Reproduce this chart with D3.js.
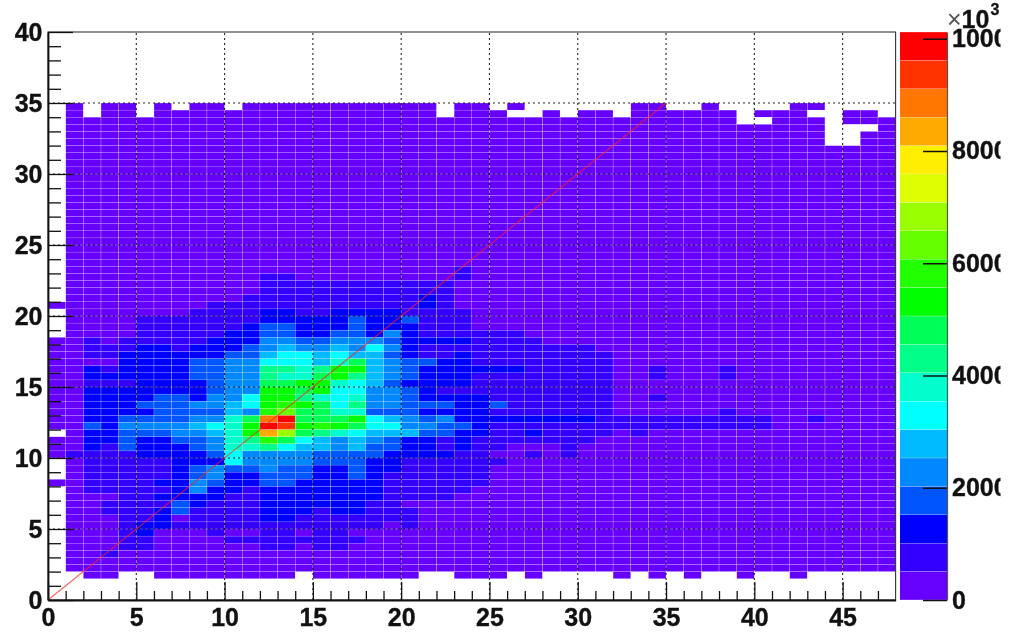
<!DOCTYPE html>
<html><head><meta charset="utf-8">
<script src="https://d3js.org/d3.v7.min.js"></script>
<style>
html,body{margin:0;padding:0;background:#fff}
svg{display:block;filter:blur(0.6px)}
text{font-family:"Liberation Sans",Arial,sans-serif;font-weight:700;fill:#111}
</style></head><body>
<svg id="c" width="1012" height="639"></svg>
<script>
// Lower edge (y) of each histogram row, top row first.
const rowLow = [34.5,34,33.5,33,32.5,32,31.5,31,30.5,30,29.5,29,28.5,28,27.5,27,26.5,26,25.5,25,24.5,24,23.5,23,22.5,22,21.5,21,20.5,20,19.5,19,18.5,18,17.5,17,16.5,16,15.5,15,14.5,14,13.5,13,12.5,12,11.5,11,10.5,10,9.5,9,8.5,8,7.5,7,6.5,6,5.5,5,4.5,4,3.5,3,2.5,2,1.5];
// Bin contents in hundreds of axis units (0 = empty bin), 48 x-bins per row.
const binValues = [
[0,3,0,3,3,0,3,0,3,3, 0,3,3,3,3,3,3,3,3,3, 3,3,0,3,3,0,3,0,0,0, 0,0,0,3,3,0,0,3,0,0, 0,0,3,3,0,0,0,0],
[0,3,0,3,3,0,3,3,3,3, 3,3,3,3,3,3,3,3,3,3, 3,3,0,3,3,3,0,0,3,0, 3,3,0,3,3,3,3,3,3,0, 3,3,3,0,0,3,3,0],
[0,3,3,3,3,3,3,3,3,3, 3,3,3,3,3,3,3,3,3,3, 3,3,3,3,3,3,3,3,3,3, 3,3,3,3,3,3,3,3,3,0, 0,3,3,3,0,3,3,3],
[0,3,3,3,3,3,3,3,3,3, 3,3,3,3,3,3,3,3,3,3, 3,3,3,3,3,3,3,3,3,3, 3,3,3,3,3,3,3,3,3,3, 3,3,3,3,0,0,0,3],
[0,3,3,3,3,3,3,3,3,3, 3,3,3,3,3,3,3,3,3,3, 3,3,3,3,3,3,3,3,3,3, 3,3,3,3,3,3,3,3,3,3, 3,3,3,3,0,0,3,3],
[0,3,3,3,3,3,3,3,3,3, 3,3,3,3,3,3,3,3,3,3, 3,3,3,3,3,3,3,3,3,3, 3,3,3,3,3,3,3,3,3,3, 3,3,3,3,0,0,3,3],
[0,3,3,3,3,3,3,3,3,3, 3,3,3,3,3,3,3,3,3,3, 3,3,3,3,3,3,3,3,3,3, 3,3,3,3,3,3,3,3,3,3, 3,3,3,3,3,3,3,3],
[0,3,3,3,3,3,3,3,3,3, 3,3,3,3,3,3,3,3,3,3, 3,3,3,3,3,3,3,3,3,3, 3,3,3,3,3,3,3,3,3,3, 3,3,3,3,3,3,3,3],
[0,3,3,3,3,3,3,3,3,3, 3,3,3,3,3,3,3,3,3,3, 3,3,3,3,3,3,3,3,3,3, 3,3,3,3,3,3,3,3,3,3, 3,3,3,3,3,3,3,3],
[0,3,3,3,3,3,3,3,3,3, 3,3,3,3,3,3,3,3,3,3, 3,3,3,3,3,3,3,3,3,3, 3,3,3,3,3,3,3,3,3,3, 3,3,3,3,3,3,3,3],
[0,3,3,3,3,3,3,3,3,3, 3,3,3,3,3,3,3,3,3,3, 3,3,3,3,3,3,3,3,3,3, 3,3,3,3,3,3,3,3,3,3, 3,3,3,3,3,3,3,3],
[0,3,3,3,3,3,3,3,3,3, 3,3,3,3,3,3,3,3,3,3, 3,3,3,3,3,3,3,3,3,3, 3,3,3,3,3,3,3,3,3,3, 3,3,3,3,3,3,3,3],
[0,3,3,3,3,3,3,3,3,3, 3,3,3,3,3,3,3,3,3,3, 3,3,3,3,3,3,3,3,3,3, 3,3,3,3,3,3,3,3,3,3, 3,3,3,3,3,3,3,3],
[0,3,3,3,3,3,3,3,3,3, 3,3,3,3,3,3,3,3,3,3, 3,3,3,3,3,3,3,3,3,3, 3,3,3,3,3,3,3,3,3,3, 3,3,3,3,3,3,3,3],
[0,3,3,3,3,3,3,3,3,3, 3,3,3,3,3,3,3,3,3,3, 3,3,3,3,3,3,3,3,3,3, 3,3,3,3,3,3,3,3,3,3, 3,3,3,3,3,3,3,3],
[0,3,3,3,3,3,3,3,3,3, 3,3,3,3,3,3,3,3,3,3, 3,3,3,3,3,3,3,3,3,3, 3,3,3,3,3,3,3,3,3,3, 3,3,3,3,3,3,3,3],
[0,3,3,3,3,3,3,3,3,3, 3,3,3,3,3,3,3,3,3,3, 3,3,3,3,3,3,3,3,3,3, 3,3,3,3,3,3,3,3,3,3, 3,3,3,3,3,3,3,3],
[0,3,3,3,3,3,3,3,3,3, 3,3,3,3,3,3,3,3,3,3, 3,3,3,3,3,3,3,3,3,3, 3,3,3,3,3,3,3,3,3,3, 3,3,3,3,3,3,3,3],
[0,3,3,3,3,3,3,3,3,3, 3,3,3,3,3,3,3,3,3,3, 3,3,3,3,3,3,3,3,3,3, 3,3,3,3,3,3,3,3,3,3, 3,3,3,3,3,3,3,3],
[0,3,3,3,3,3,3,3,3,3, 3,3,3,3,3,3,3,3,3,3, 3,3,3,3,3,3,3,3,3,3, 3,3,3,3,3,3,3,3,3,3, 3,3,3,3,3,3,3,3],
[0,3,3,3,3,3,3,3,3,3, 3,3,3,3,3,3,3,3,3,3, 3,3,3,3,3,3,3,3,3,3, 3,3,3,3,3,3,3,3,3,3, 3,3,3,3,3,3,3,3],
[0,3,3,3,3,3,3,3,3,3, 3,3,3,3,3,3,3,3,3,3, 3,3,3,3,3,3,3,3,3,3, 3,3,3,3,3,3,3,3,3,3, 3,3,3,3,3,3,3,3],
[0,3,3,3,3,3,3,3,3,3, 3,3,3,3,3,3,3,3,3,3, 3,3,3,3,3,3,3,3,3,3, 3,3,3,3,3,3,3,3,3,3, 3,3,3,3,3,3,3,3],
[0,3,3,3,3,3,3,3,3,3, 3,3,3,3,3,3,3,3,3,3, 3,3,3,8,3,3,3,3,3,3, 3,3,3,3,3,3,3,3,3,3, 3,3,3,3,3,3,3,3],
[0,3,3,3,3,3,3,3,3,3, 3,3,8,8,3,3,3,3,3,3, 3,3,3,8,3,3,3,3,3,3, 3,3,3,3,3,3,3,3,3,3, 3,3,3,3,3,3,3,3],
[0,3,3,3,3,3,3,3,3,3, 3,3,8,8,8,8,8,8,8,8, 8,8,8,3,3,3,3,3,3,3, 3,3,3,3,3,3,3,3,3,3, 3,3,3,3,3,3,3,3],
[0,3,3,3,3,3,3,3,3,3, 3,3,8,8,8,8,8,8,8,8, 8,8,8,3,3,3,3,3,3,3, 3,3,3,3,3,3,3,3,3,3, 3,3,3,3,3,3,3,3],
[0,3,3,3,3,3,3,3,3,3, 3,8,8,8,8,8,8,8,8,8, 8,13,8,3,3,3,3,3,3,3, 3,3,3,3,3,3,3,3,3,3, 3,3,3,3,3,3,3,3],
[3,3,3,3,3,3,3,3,3,8, 8,8,8,8,8,8,8,8,8,8, 8,13,8,3,3,3,3,3,3,3, 3,3,3,3,3,3,3,3,3,3, 3,3,3,3,3,3,3,3],
[0,3,3,3,3,3,3,3,8,8, 8,8,13,13,8,8,13,13,13,13, 8,8,8,8,3,3,3,3,3,3, 3,3,3,3,3,3,3,3,3,3, 3,3,3,3,3,3,3,3],
[0,3,3,3,3,8,8,8,8,8, 8,8,13,13,13,13,13,18,13,13, 18,8,8,8,3,3,3,3,3,3, 3,3,3,3,3,3,3,3,3,3, 3,3,3,3,3,3,3,3],
[0,3,3,3,3,8,8,8,8,8, 8,13,18,18,13,13,13,18,13,13, 13,8,8,8,3,3,3,3,3,3, 3,3,3,3,3,3,3,3,3,3, 3,3,3,3,3,3,3,3],
[0,3,3,3,3,8,8,8,8,8, 13,13,18,18,13,13,18,18,13,23, 13,8,8,8,8,8,8,3,3,3, 3,3,3,3,3,3,3,3,3,3, 3,3,3,3,3,3,3,3],
[3,3,8,3,8,8,8,8,8,13, 13,13,23,23,18,18,23,23,23,18, 13,13,13,13,8,8,8,8,3,3, 3,3,3,3,3,3,3,3,3,3, 3,3,3,3,3,3,3,3],
[3,3,8,8,8,13,13,8,13,13, 13,18,23,28,23,23,28,23,33,23, 13,8,8,8,8,8,8,8,8,8, 8,3,3,3,3,3,3,3,3,3, 3,3,3,3,3,3,3,3],
[3,3,8,8,13,13,13,13,13,13, 18,18,28,33,33,28,33,28,28,18, 13,8,8,13,8,8,8,8,8,8, 8,8,3,3,3,3,3,3,3,3, 3,3,3,3,3,3,3,3],
[3,3,3,3,13,13,13,13,18,18, 23,23,33,33,33,28,38,48,28,23, 18,18,13,13,8,8,8,8,8,8, 8,8,3,3,3,3,3,3,3,3, 3,3,3,3,3,3,3,3],
[3,3,13,8,13,13,13,13,18,18, 23,23,43,43,38,43,53,53,28,23, 18,13,13,13,13,13,13,8,8,8, 8,8,3,3,8,3,3,3,8,3, 3,3,3,3,3,3,3,3],
[3,3,13,13,13,13,13,13,18,18, 23,23,43,38,38,48,53,43,28,23, 18,13,13,13,8,8,8,8,8,8, 8,8,3,3,8,3,3,3,8,3, 3,3,3,3,3,3,3,3],
[3,3,8,8,8,13,13,13,13,18, 23,23,48,48,53,53,38,33,28,18, 13,13,13,13,8,8,8,8,8,8, 8,8,3,3,3,3,3,3,3,3, 3,3,3,3,3,3,3,3],
[3,3,13,13,13,13,13,13,13,18, 23,23,53,53,48,53,33,33,23,23, 18,13,8,8,8,8,8,8,8,8, 8,8,3,3,3,3,3,3,3,3, 3,3,3,3,3,3,3,3],
[3,3,13,13,13,13,18,18,13,23, 23,33,53,53,43,38,33,38,23,23, 18,13,13,13,13,8,8,8,8,8, 8,8,3,3,8,3,3,3,3,3, 3,3,3,3,3,3,3,3],
[3,3,13,13,13,18,18,18,23,23, 28,33,53,58,53,48,33,43,23,23, 18,18,18,13,13,18,8,8,8,8, 8,8,3,3,3,3,3,3,3,3, 3,3,3,3,3,3,3,3],
[3,3,13,13,13,13,18,18,18,18, 28,23,58,63,48,48,38,38,18,18, 18,13,13,13,13,8,8,8,8,8, 8,8,3,3,3,3,3,3,8,3, 3,3,3,3,3,3,3,3],
[3,3,13,13,18,18,18,18,23,23, 38,48,88,99,48,48,48,53,33,28, 23,18,23,13,13,13,13,13,13,13, 13,8,8,8,8,8,8,8,8,8, 8,3,3,8,3,3,3,3],
[3,3,18,13,23,23,23,23,28,33, 38,53,99,93,53,58,53,48,33,33, 23,23,18,18,13,8,8,8,8,8, 8,8,8,8,8,8,8,8,8,8, 8,3,3,3,3,3,3,3],
[0,3,13,13,18,18,18,23,23,28, 38,53,83,68,48,43,38,33,28,28, 28,18,18,13,13,8,8,13,8,8, 8,8,3,8,3,3,3,3,3,3, 3,3,3,3,3,3,3,3],
[3,3,13,13,18,13,13,18,18,23, 38,43,58,48,33,28,23,28,23,18, 13,13,8,13,8,8,8,8,8,8, 8,3,3,3,3,3,3,3,3,3, 3,3,3,3,3,3,3,3],
[3,3,13,8,18,13,13,13,18,23, 38,38,43,33,28,28,23,28,18,18, 13,13,8,13,8,8,3,3,3,8, 3,3,3,3,3,3,3,3,3,3, 3,3,3,3,3,3,3,3],
[3,8,8,8,8,13,13,13,13,18, 33,23,23,23,23,18,18,18,18,13, 13,13,13,8,8,3,3,8,3,8, 3,3,3,3,3,3,3,3,3,3, 3,3,3,3,3,3,3,3],
[0,3,8,8,8,8,8,13,13,13, 33,23,23,23,23,18,18,18,13,13, 8,8,8,8,8,8,3,3,3,3, 3,3,3,3,3,3,3,3,3,3, 3,3,3,3,3,3,3,3],
[0,3,8,8,8,8,8,13,18,23, 18,18,23,18,18,13,13,18,13,13, 8,8,8,8,8,3,3,3,3,3, 3,3,3,3,3,3,3,3,3,3, 3,3,3,3,3,3,3,3],
[0,3,8,8,8,8,8,13,18,23, 13,13,18,18,18,13,13,18,13,8, 8,8,8,8,8,3,3,3,3,3, 3,3,3,3,3,3,3,3,3,3, 3,3,3,3,3,3,3,3],
[3,3,8,8,8,8,13,13,23,18, 13,13,18,18,13,13,13,13,13,8, 8,8,8,8,8,3,3,3,3,3, 3,3,3,3,3,3,3,3,3,3, 3,3,3,3,3,3,3,3],
[0,3,8,8,8,8,8,13,23,13, 13,8,13,13,13,13,13,13,13,8, 8,8,8,8,3,3,3,3,3,3, 3,3,3,3,3,3,3,3,3,3, 3,3,3,3,3,3,3,3],
[0,3,3,3,8,8,13,13,13,13, 8,8,13,13,13,13,13,13,13,8, 8,8,8,3,3,3,3,3,3,3, 3,3,3,3,3,3,3,3,3,3, 3,3,3,3,3,3,3,3],
[0,3,3,8,8,8,8,18,13,8, 8,8,13,13,13,13,13,13,8,8, 3,3,3,3,3,3,3,3,3,3, 3,3,3,3,3,3,3,3,3,3, 3,3,3,3,3,3,3,3],
[0,3,3,8,8,8,13,18,8,8, 8,8,13,13,13,8,13,13,8,8, 8,3,3,3,3,3,3,3,3,3, 3,3,3,3,3,3,3,3,3,3, 3,3,3,3,3,3,3,3],
[0,3,3,3,8,8,13,3,8,8, 8,8,13,13,8,8,8,8,8,8, 8,3,3,3,3,3,3,3,3,3, 3,3,3,3,3,3,3,3,3,3, 3,3,3,3,3,3,3,3],
[0,3,3,3,8,13,13,8,8,8, 8,8,8,8,8,8,8,8,8,3, 8,3,3,3,3,3,3,3,3,3, 3,3,3,3,3,3,3,3,3,3, 3,3,3,3,3,3,3,3],
[0,3,3,3,8,13,3,3,3,8, 3,3,8,8,3,8,8,3,3,3, 3,3,3,3,3,3,3,3,3,3, 3,3,3,3,3,3,3,3,3,3, 3,3,3,3,3,3,3,3],
[0,3,3,3,8,8,3,3,3,3, 8,8,8,8,8,8,8,8,3,3, 3,3,3,3,3,3,3,3,3,3, 3,3,3,3,3,3,3,3,3,3, 3,3,3,3,3,3,3,3],
[0,3,3,3,8,8,3,3,3,3, 3,3,8,8,3,8,8,3,3,3, 3,3,3,3,3,3,3,3,3,3, 3,3,3,3,3,3,3,3,3,3, 3,3,3,3,3,3,3,3],
[0,3,3,8,3,3,3,3,3,3, 3,3,3,3,3,3,3,3,3,3, 3,3,3,3,3,3,3,3,3,3, 3,3,3,3,3,3,3,3,3,3, 3,3,3,3,3,3,3,3],
[0,3,3,3,3,3,3,3,3,3, 3,3,3,3,3,3,3,3,3,3, 3,3,3,3,3,3,3,3,3,3, 3,3,3,3,3,3,3,3,3,3, 3,3,3,3,3,3,3,3],
[0,3,3,3,3,3,3,3,3,3, 3,3,3,3,3,3,3,3,3,3, 3,3,3,3,3,3,3,3,3,3, 3,3,3,3,3,3,3,3,3,3, 3,3,3,3,3,3,3,3],
[0,0,3,3,0,0,3,3,3,3, 3,3,3,3,0,3,3,3,3,3, 3,0,0,3,3,3,0,3,0,0, 0,0,3,0,3,0,3,0,0,3, 0,0,3,0,0,0,0,0]
];
const palette = ["#6600ff","#3300ff","#0000ff","#0055ff","#0088ff","#00bbff","#00ffff","#00ffcc","#00ff88","#00ff55","#00ff00","#22ff00","#66ff00","#99ff00","#ddff00","#ffee00","#ffaa00","#ff7700","#ff3300","#ff0000"];
const xTicksMajor = [0,5,10,15,20,25,30,35,40,45];
const xTicksMinor = [1,2,3,4,6,7,8,9,11,12,13,14,16,17,18,19,21,22,23,24,26,27,28,29,31,32,33,34,36,37,38,39,41,42,43,44,46,47];
const yTicksMajor = [0,5,10,15,20,25,30,35,40];
const yTicksMinor = [1,2,3,4,6,7,8,9,11,12,13,14,16,17,18,19,21,22,23,24,26,27,28,29,31,32,33,34,36,37,38,39];
const zTicks = [0,2000,4000,6000,8000,10000];
const diagonalEnds = [0,35];

const svg = d3.select("#c");
const x = d3.scaleLinear().domain([0,48]).range([48,895.6]);
const y = d3.scaleLinear().domain([0,40]).range([600,32]);
const z = d3.scaleLinear().domain([0,10120]).range([600,32]);
const color = d3.scaleQuantize().domain([0,101.2]).range(palette);
const seamX = 0.32, seamY = 0.28;

const cells = [];
binValues.forEach((row,r)=>row.forEach((v,i)=>{ if(v>0) cells.push({i,low:rowLow[r],v}); }));
svg.append("g").selectAll("rect").data(cells).join("rect")
  .attr("x",d=>x(d.i)+seamX/2).attr("width",d=>x(d.i+1)-x(d.i)-seamX)
  .attr("y",d=>y(d.low+0.5)+seamY/2).attr("height",d=>y(d.low)-y(d.low+0.5)-seamY)
  .attr("fill",d=>color(d.v));

// dotted grid
const grid = svg.append("g").attr("stroke","#000").attr("stroke-width",1.1).attr("stroke-dasharray","2 3").attr("stroke-opacity",0.85);
grid.selectAll(".gx").data(xTicksMajor.slice(1)).join("line").attr("x1",x).attr("x2",x).attr("y1",y(0)).attr("y2",y(40));
grid.selectAll(".gy").data(yTicksMajor.slice(1,-1)).join("line").attr("y1",y).attr("y2",y).attr("x1",x(0)).attr("x2",x(48));

// diagonal
svg.append("path").datum(diagonalEnds)
  .attr("d",d3.line().x(d=>x(d)).y(d=>y(d))).attr("fill","none")
  .attr("stroke","#ff2020").attr("stroke-opacity",0.7).attr("stroke-width",1.1);

// frame
svg.append("rect").attr("x",x(0)).attr("y",y(40)).attr("width",x(48)-x(0)).attr("height",y(0)-y(40))
  .attr("fill","none").attr("stroke","#333").attr("stroke-width",1.1);

function style(g){
  g.selectAll("path").attr("stroke","#111").attr("stroke-width",1.8);
  g.selectAll("line").attr("stroke","#111").attr("stroke-width",1.3);
  g.selectAll("text").attr("font-size",25).attr("font-family",'"Liberation Sans"').attr("font-weight",700)
    .attr("fill","#111").attr("stroke","#111").attr("stroke-width",0.35);
}
const axB = svg.append("g").attr("transform",`translate(0,${y(0)})`)
  .call(d3.axisBottom(x).tickValues(xTicksMajor).tickFormat(d3.format("d")).tickSizeInner(-18).tickSizeOuter(0).tickPadding(8.5));
style(axB);
const axBm = svg.append("g").attr("transform",`translate(0,${y(0)})`)
  .call(d3.axisBottom(x).tickValues(xTicksMinor).tickFormat("").tickSizeInner(-9).tickSizeOuter(0));
style(axBm); axBm.select("path").remove();
const axL = svg.append("g").attr("transform",`translate(${x(0)},0)`)
  .call(d3.axisLeft(y).tickValues(yTicksMajor).tickFormat(d3.format("d")).tickSizeInner(-25).tickSizeOuter(0).tickPadding(5.5));
style(axL);
const axLm = svg.append("g").attr("transform",`translate(${x(0)},0)`)
  .call(d3.axisLeft(y).tickValues(yTicksMinor).tickFormat("").tickSizeInner(-13).tickSizeOuter(0));
style(axLm); axLm.select("path").remove();

// colour bar
const cbW = [900,947];
const bands = palette.map((c,k)=>k);
svg.append("g").selectAll("rect").data(bands).join("rect")
  .attr("x",cbW[0]).attr("width",cbW[1]-cbW[0])
  .attr("y",k=>z((k+1)*506)+0.15).attr("height",k=>z(k*506)-z((k+1)*506)-0.3)
  .attr("fill",k=>palette[k]);

svg.append("defs").append("clipPath").attr("id","pageClip").append("rect").attr("x",0).attr("y",0).attr("width",1000.5).attr("height",639);
const right = svg.append("g").attr("clip-path","url(#pageClip)");
const axZ = right.append("g").attr("transform",`translate(${cbW[1]},0)`)
  .call(d3.axisRight(z).tickValues(zTicks).tickFormat(d3.format("d")).tickSizeInner(-24).tickSizeOuter(0).tickPadding(5));
style(axZ);
axZ.select("path").attr("stroke","#555").attr("stroke-width",1.2);

const expo = right.append("text").attr("x",947).attr("y",28).attr("font-size",25).attr("stroke","#111").attr("stroke-width",0.3);
expo.append("tspan").style("font-weight",400).style("fill","#555").attr("stroke","none").text("×");
expo.append("tspan").text("10");
expo.append("tspan").attr("font-size",16).attr("dy",-13).attr("dx",1).text("3");
</script>
</body></html>
